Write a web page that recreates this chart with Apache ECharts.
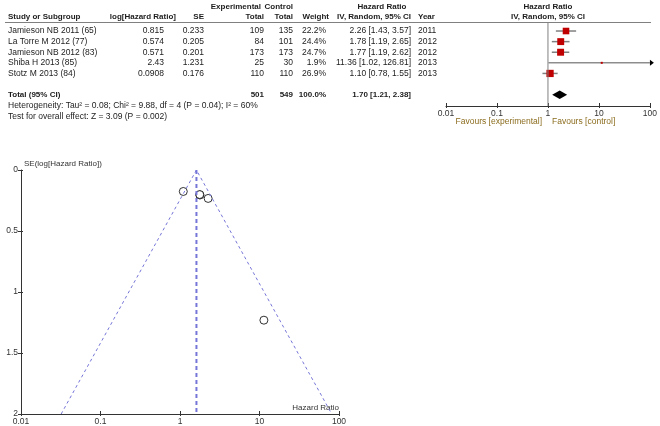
<!DOCTYPE html>
<html>
<head>
<meta charset="utf-8">
<script src="https://cdn.jsdelivr.net/npm/echarts@6/dist/echarts.min.js"></script>
<style>
html, body { margin: 0; padding: 0; background: #fff; }
#main { width: 660px; height: 426px; }
</style>
</head>
<body>
<div id="main"></div>
<script>
// study table
let studies = ['Jamieson NB 2011 (65)', 'La Torre M 2012 (77)', 'Jamieson NB 2012 (83)', 'Shiba H 2013 (85)', 'Stotz M 2013 (84)'];
let log_hr = ['0.815', '0.574', '0.571', '2.43', '0.0908'];
let se = [0.233, 0.205, 0.201, 1.231, 0.176];
let exp_total = [109, 84, 173, 25, 110];
let ctl_total = [135, 101, 173, 30, 110];
let weight = [22.2, 24.4, 24.7, 1.9, 26.9];
let hr = [2.26, 1.78, 1.77, 11.36, 1.10];
let ci_low = [1.43, 1.19, 1.19, 1.02, 0.78];
let ci_high = [3.57, 2.65, 2.62, 126.81, 1.55];
let years = [2011, 2012, 2012, 2013, 2013];

// pooled (random effects) row
let total_exp = 501;
let total_ctl = 549;
let total_hr = [1.70, 1.21, 2.38];

// funnel plot: pooled estimate and 95% pseudo-CI ends at SE = 2
let funnel_x = [0.032, 1.61, 81];
let funnel_y = [2, 0, 2];

let ticks_hr = [0.01, 0.1, 1, 10, 100];

let font = 'Arial, "Liberation Sans", sans-serif';
let text_color = '#1c1c1c';
let favour_color = '#8c6d1f';
let funnel_color = '#7676d8';
let axis_color = '#333';

let my_chart = echarts.init(document.getElementById('main'));

function fmtHR(v) {
    return v.toFixed(2);
}

function renderStudy(params, api) {
    let row = api.value(0);
    let max = ticks_hr[ticks_hr.length - 1];
    let p = api.coord([api.value(1), row]);
    let lo = api.coord([api.value(2), row]);
    let clipped = api.value(3) > max;
    let hi = api.coord([clipped ? max : api.value(3), row]);
    let side = Math.max(2, 14 * Math.sqrt(api.value(4) / 100));
    let children = [{
        type: 'line',
        shape: {x1: lo[0], y1: lo[1], x2: hi[0], y2: hi[1]},
        style: {stroke: clipped ? '#555' : '#808080', lineWidth: clipped ? 1 : 1.5}
    }];
    if (clipped) {
        children.push({
            type: 'polygon',
            shape: {points: [[hi[0] + 4, hi[1]], [hi[0], hi[1] - 3], [hi[0], hi[1] + 3]]},
            style: {fill: '#000'}
        });
    }
    children.push({
        type: 'rect',
        shape: {x: p[0] - side / 2, y: p[1] - side / 2, width: side, height: side},
        style: {fill: '#c00000'}
    });
    return {type: 'group', children: children};
}

function renderDiamond(params, api) {
    let row = api.value(0);
    let c = api.coord([api.value(1), row]);
    let lo = api.coord([api.value(2), row]);
    let hi = api.coord([api.value(3), row]);
    let h = api.size([0, 0.4])[1];
    return {
        type: 'polygon',
        shape: {points: [[lo[0], lo[1]], [c[0], c[1] - h], [hi[0], hi[1]], [c[0], c[1] + h]]},
        style: {fill: '#000'}
    };
}

// log axis with ticks on one side; a twin without labels adds the other side
function hrAxis(grid, inside, extra) {
    let ax = {
        gridIndex: grid,
        type: 'log',
        logBase: 10,
        min: 0.01,
        max: 100,
        position: 'bottom',
        axisLine: {show: inside, onZero: false, lineStyle: {color: axis_color}},
        axisTick: {show: true, inside: inside, length: inside ? 3 : 2, lineStyle: {color: axis_color}},
        axisLabel: {show: inside, margin: 3, fontSize: 8.5, color: axis_color, fontFamily: font},
        splitLine: {show: false}
    };
    return Object.assign(ax, extra || {});
}

let option = {
    animation: false,
    textStyle: {fontFamily: font},
    grid: [
        {left: 446, top: 22, width: 205, height: 84},
        {left: 21, top: 170, width: 318, height: 244}
    ],
    xAxis: [
        hrAxis(0, true),
        hrAxis(1, true, {
            name: 'Hazard Ratio',
            nameLocation: 'end',
            nameGap: 0,
            nameTextStyle: {align: 'right', verticalAlign: 'bottom', fontSize: 8, color: axis_color, padding: [0, 0, 2, 0]}
        }),
        hrAxis(0, false),
        hrAxis(1, false)
    ],
    yAxis: [
        {
            gridIndex: 0,
            type: 'value',
            inverse: true,
            min: -0.85,
            max: 7.07,
            show: false
        },
        {
            gridIndex: 1,
            type: 'value',
            inverse: true,
            min: 0,
            max: 2,
            interval: 0.5,
            position: 'left',
            name: 'SE(log[Hazard Ratio])',
            nameLocation: 'start',
            nameGap: 2,
            nameTextStyle: {align: 'left', verticalAlign: 'bottom', fontSize: 8, color: axis_color, padding: [0, 0, 0, 3]},
            axisLine: {show: true, onZero: false, lineStyle: {color: axis_color}},
            axisTick: {show: true, length: 3, lineStyle: {color: axis_color}},
            axisLabel: {margin: 3, fontSize: 8.5, color: axis_color, fontFamily: font},
            splitLine: {show: false}
        },
        {
            gridIndex: 1,
            type: 'value',
            inverse: true,
            min: 0,
            max: 2,
            interval: 0.5,
            position: 'left',
            axisLine: {show: false, onZero: false},
            axisTick: {show: true, inside: true, length: 2, lineStyle: {color: axis_color}},
            axisLabel: {show: false},
            splitLine: {show: false}
        }
    ],
    series: [
        {
            name: 'line of no effect',
            type: 'line',
            xAxisIndex: 0,
            yAxisIndex: 0,
            symbol: 'none',
            silent: true,
            lineStyle: {color: '#808080', width: 1},
            data: [[1, -0.85], [1, 7.07]]
        },
        {
            name: 'studies',
            type: 'custom',
            xAxisIndex: 0,
            yAxisIndex: 0,
            clip: false,
            renderItem: renderStudy,
            data: studies.map((s, i) => [i, hr[i], ci_low[i], ci_high[i], weight[i]])
        },
        {
            name: 'total',
            type: 'custom',
            xAxisIndex: 0,
            yAxisIndex: 0,
            renderItem: renderDiamond,
            data: [[6, total_hr[0], total_hr[1], total_hr[2]]]
        },
        {
            name: 'funnel limits',
            type: 'line',
            xAxisIndex: 1,
            yAxisIndex: 1,
            symbol: 'none',
            silent: true,
            lineStyle: {color: funnel_color, width: 1, type: [3, 3]},
            data: funnel_x.map((x, i) => [x, funnel_y[i]])
        },
        {
            name: 'pooled',
            type: 'line',
            xAxisIndex: 1,
            yAxisIndex: 1,
            symbol: 'none',
            silent: true,
            lineStyle: {color: funnel_color, width: 2, type: [4, 3]},
            data: [[funnel_x[1], 0], [funnel_x[1], 2]]
        },
        {
            name: 'study points',
            type: 'scatter',
            xAxisIndex: 1,
            yAxisIndex: 1,
            symbol: 'circle',
            symbolSize: 8,
            itemStyle: {color: '#fff', borderColor: '#000', borderWidth: 1},
            data: hr.map((h, i) => [h, se[i]])
        }
    ]
};

my_chart.setOption(option);

// table text, rows lined up with the forest plot y axis
function rowY(r) {
    return my_chart.convertToPixel({yAxisIndex: 0}, r);
}

function txt(x, y, s, align, bold, color) {
    return {
        type: 'text',
        x: x,
        y: y,
        silent: true,
        style: {
            text: s,
            align: align,
            verticalAlign: 'middle',
            fontFamily: font,
            fontSize: bold ? 8 : 8.5,
            fontWeight: bold ? 'bold' : 'normal',
            fill: color || text_color
        }
    };
}

let col = {study: 8, log: 164, se: 204, exp: 264, ctl: 293, w: 326, hr: 411, year: 418, plot: 548};
let head1 = 6.5, head2 = 17;
let g = [];

g.push(txt(261, head1, 'Experimental', 'right', true));
g.push(txt(col.ctl, head1, 'Control', 'right', true));
g.push(txt(382, head1, 'Hazard Ratio', 'center', true));
g.push(txt(col.plot, head1, 'Hazard Ratio', 'center', true));
g.push(txt(col.study, head2, 'Study or Subgroup', 'left', true));
g.push(txt(176, head2, 'log[Hazard Ratio]', 'right', true));
g.push(txt(col.se, head2, 'SE', 'right', true));
g.push(txt(col.exp, head2, 'Total', 'right', true));
g.push(txt(col.ctl, head2, 'Total', 'right', true));
g.push(txt(col.w + 3, head2, 'Weight', 'right', true));
g.push(txt(col.hr, head2, 'IV, Random, 95% CI', 'right', true));
g.push(txt(col.year, head2, 'Year', 'left', true));
g.push(txt(col.plot, head2, 'IV, Random, 95% CI', 'center', true));

g.push({
    type: 'line',
    silent: true,
    shape: {x1: 5, y1: 22.5, x2: 651, y2: 22.5},
    style: {stroke: '#808080', lineWidth: 1}
});

studies.forEach(function (s, i) {
    let y = rowY(i);
    g.push(txt(col.study, y, s, 'left'));
    g.push(txt(col.log, y, log_hr[i], 'right'));
    g.push(txt(col.se, y, String(se[i]), 'right'));
    g.push(txt(col.exp, y, String(exp_total[i]), 'right'));
    g.push(txt(col.ctl, y, String(ctl_total[i]), 'right'));
    g.push(txt(col.w, y, weight[i].toFixed(1) + '%', 'right'));
    g.push(txt(col.hr, y, fmtHR(hr[i]) + ' [' + fmtHR(ci_low[i]) + ', ' + fmtHR(ci_high[i]) + ']', 'right'));
    g.push(txt(col.year, y, String(years[i]), 'left'));
});

let ty = rowY(6);
g.push(txt(col.study, ty, 'Total (95% CI)', 'left', true));
g.push(txt(col.exp, ty, String(total_exp), 'right', true));
g.push(txt(col.ctl, ty, String(total_ctl), 'right', true));
g.push(txt(col.w, ty, '100.0%', 'right', true));
g.push(txt(col.hr, ty, fmtHR(total_hr[0]) + ' [' + fmtHR(total_hr[1]) + ', ' + fmtHR(total_hr[2]) + ']', 'right', true));
g.push(txt(col.study, ty + 11.5, 'Heterogeneity: Tau\u00b2 = 0.08; Chi\u00b2 = 9.88, df = 4 (P = 0.04); I\u00b2 = 60%', 'left'));
g.push(txt(col.study, ty + 22.5, 'Test for overall effect: Z = 3.09 (P = 0.002)', 'left'));

let axisY = rowY(7.07);
g.push(txt(col.plot - 6, axisY + 16, 'Favours [experimental]', 'right', false, favour_color));
g.push(txt(col.plot + 4, axisY + 16, 'Favours [control]', 'left', false, favour_color));

my_chart.setOption({graphic: g});
</script>
</body>
</html>
